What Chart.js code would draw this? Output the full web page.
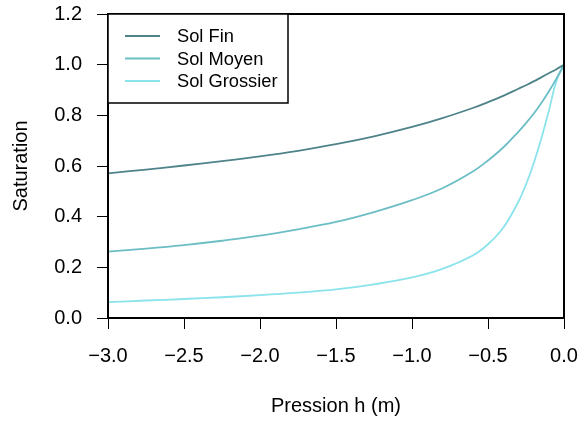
<!DOCTYPE html>
<html>
<head>
<meta charset="utf-8">
<script src="https://cdn.jsdelivr.net/npm/chart.js@4.4.1/dist/chart.umd.min.js"></script>
<style>
  html, body { margin: 0; padding: 0; background: #fff; }
  #wrap { width: 579px; height: 421px; }
</style>
</head>
<body>
<div id="wrap"><canvas id="c" width="579" height="421"></canvas></div>
<script>
// ---- Data ----
const pressure    = [-3, -2.75, -2.5, -2.25, -2, -1.75, -1.5, -1.25, -1, -0.8, -0.6, -0.5, -0.4, -0.3, -0.25, -0.2, -0.15, -0.1, -0.05, 0];
const solFin      = [0.571, 0.586, 0.602, 0.619, 0.638, 0.660, 0.686, 0.717, 0.754, 0.789, 0.829, 0.852, 0.877, 0.905, 0.919, 0.934, 0.950, 0.966, 0.982, 1.0];
const solMoyen    = [0.262, 0.274, 0.288, 0.305, 0.325, 0.350, 0.379, 0.418, 0.465, 0.512, 0.578, 0.622, 0.673, 0.735, 0.769, 0.806, 0.848, 0.894, 0.945, 1.0];
const solGrossier = [0.063, 0.069, 0.075, 0.082, 0.090, 0.100, 0.113, 0.133, 0.160, 0.194, 0.247, 0.291, 0.356, 0.459, 0.527, 0.610, 0.707, 0.817, 0.935, 1.0];
const seriesNames = ['Sol Fin', 'Sol Moyen', 'Sol Grossier'];
const xTicks = [-3.0, -2.5, -2.0, -1.5, -1.0, -0.5, 0.0];
const yTicks = [0.0, 0.2, 0.4, 0.6, 0.8, 1.0, 1.2];

const colors = ['#4E8489', '#6CBEC5', '#8BE3EC'];
const FONT = '"Liberation Sans", Arial, Helvetica, sans-serif';

function pts(ys) { return pressure.map((x, i) => ({ x: x, y: ys[i] })); }

const fmt = v => {
  const s = Math.abs(v).toFixed(1);
  return (v < -1e-9 ? '\u2212' : '') + s;
};

// frame around the plot region
const framePlugin = {
  id: 'frame',
  afterDatasetsDraw(chart) {
    const a = chart.chartArea, ctx = chart.ctx;
    ctx.save();
    ctx.strokeStyle = '#000';
    ctx.lineWidth = 2;
    ctx.strokeRect(a.left, a.top, a.right - a.left, a.bottom - a.top);
    ctx.restore();
  }
};

// legend box in the top-left corner of the plot region
const legendPlugin = {
  id: 'boxLegend',
  afterDraw(chart) {
    const a = chart.chartArea, ctx = chart.ctx;
    const bx = a.left, by = a.top, bw = 180, bh = 89;
    ctx.save();
    ctx.fillStyle = '#fff';
    ctx.fillRect(bx, by, bw, bh);
    ctx.strokeStyle = '#000';
    ctx.lineWidth = 1.5;
    ctx.strokeRect(bx, by, bw, bh);
    ctx.font = '18.3px ' + FONT;
    ctx.textBaseline = 'middle';
    ctx.textAlign = 'left';
    chart.data.datasets.forEach((ds, i) => {
      const yy = by + 22 + i * 22.5;
      ctx.strokeStyle = ds.borderColor;
      ctx.lineWidth = 1.8;
      ctx.beginPath();
      ctx.moveTo(bx + 17, yy);
      ctx.lineTo(bx + 52, yy);
      ctx.stroke();
      ctx.fillStyle = '#000';
      ctx.fillText(ds.label, bx + 69, yy + 1);
    });
    ctx.restore();
  }
};

new Chart(document.getElementById('c'), {
  type: 'line',
  data: {
    datasets: [solFin, solMoyen, solGrossier].map((s, i) => ({
      label: seriesNames[i],
      data: pts(s),
      borderColor: colors[i],
      backgroundColor: colors[i],
      borderWidth: 1.8,
      pointRadius: 0,
      fill: false,
      tension: 0.4
    }))
  },
  options: {
    responsive: false,
    animation: false,
    devicePixelRatio: 1,
    layout: { padding: { top: 14, right: 15, left: 0, bottom: 0 } },
    plugins: {
      legend: { display: false },
      tooltip: { enabled: false }
    },
    scales: {
      x: {
        type: 'linear',
        min: -3, max: 0,
        afterFit: s => { s.height = 103; s.paddingLeft = 0; s.paddingRight = 0; },
        afterBuildTicks: s => { s.ticks = xTicks.map(v => ({ value: v })); },
        ticks: {
          callback: v => fmt(v),
          color: '#000',
          font: { family: FONT, size: 20 },
          padding: 15,
          maxRotation: 0,
          autoSkip: false
        },
        grid: { drawOnChartArea: false, drawTicks: true, tickLength: 11, color: '#000', lineWidth: 1 },
        border: { display: false },
        title: {
          display: true,
          text: 'Pression h (m)',
          color: '#000',
          font: { family: FONT, size: 20 },
          padding: { top: 0, bottom: 3 }
        }
      },
      y: {
        type: 'linear',
        min: 0, max: 1.2,
        afterFit: s => { s.width = 108; s.paddingTop = 0; s.paddingBottom = 0; },
        afterBuildTicks: s => { s.ticks = yTicks.map(v => ({ value: v })); },
        ticks: {
          callback: v => fmt(v),
          color: '#000',
          font: { family: FONT, size: 20 },
          padding: 15,
          autoSkip: false
        },
        grid: { drawOnChartArea: false, drawTicks: true, tickLength: 11, color: '#000', lineWidth: 1 },
        border: { display: false },
        title: {
          display: true,
          text: 'Saturation',
          color: '#000',
          font: { family: FONT, size: 20 },
          padding: { top: 9, bottom: 0 }
        }
      }
    }
  },
  plugins: [framePlugin, legendPlugin]
});
</script>
</body>
</html>
